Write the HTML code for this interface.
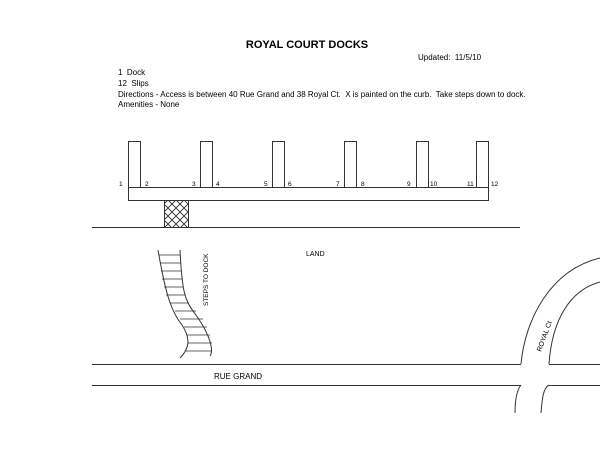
<!DOCTYPE html>
<html><head><style>body{margin:0;background:#fff}svg{display:block}text{white-space:pre}</style></head><body>
<svg width="600" height="464" viewBox="0 0 600 464" font-family="Liberation Sans, Arial, sans-serif" fill="none" stroke="#333" stroke-width="1">
<defs><pattern id="x" width="8" height="8" patternUnits="userSpaceOnUse"><path d="M0 0L8 8M8 0L0 8" stroke="#222" stroke-width="0.8"/></pattern></defs>
<text x="307" y="48" font-size="11" font-weight="bold" fill="#000" stroke="none" text-anchor="middle">ROYAL COURT DOCKS</text>
<g fill="#000" stroke="none" font-size="8">
<text x="418" y="60">Updated:  11/5/10</text>
<text x="118" y="75">1  Dock</text>
<text x="118" y="86">12  Slips</text>
<text x="118" y="97">Directions - Access is between 40 Rue Grand and 38 Royal Ct.  X is painted on the curb.  Take steps down to dock.</text>
<text x="118" y="107">Amenities - None</text>
<text x="306" y="256" font-size="7">LAND</text>
<text x="214" y="379">RUE GRAND</text>
<text transform="translate(208,306) rotate(-90)" font-size="6.5">STEPS TO DOCK</text>
<text transform="translate(541,352) rotate(-70)" font-size="7">ROYAL Ct</text>
<g font-size="6.5"><text x="119" y="186">1</text><text x="145" y="186">2</text><text x="192" y="186">3</text><text x="216" y="186">4</text><text x="264" y="186">5</text><text x="288" y="186">6</text><text x="336" y="186">7</text><text x="361" y="186">8</text><text x="407" y="186">9</text><text x="430" y="186">10</text><text x="467" y="186">11</text><text x="491" y="186">12</text></g>
</g>
<rect x="128.5" y="187.5" width="360" height="13"/>
<rect x="128.5" y="141.5" width="12" height="46"/>
<rect x="200.5" y="141.5" width="12" height="46"/>
<rect x="272.5" y="141.5" width="12" height="46"/>
<rect x="344.5" y="141.5" width="12" height="46"/>
<rect x="416.5" y="141.5" width="12" height="46"/>
<rect x="476.5" y="141.5" width="12" height="46"/>
<rect x="164.5" y="200.5" width="24" height="27" fill="url(#x)"/>
<path d="M92 227.5H520"/>
<path d="M158 250C165 290 170 310 182 325C192 340 188 350 180 358"/>
<path d="M180 250C182 290 184 300 196 315C210 335 214 350 210 356"/>
<g stroke-width="0.7">
<path d="M159 255H180M160 263H181M161 271H181M162 279H182M164 287H183M166 295H185M170 303H189M175 311H196M180 319H203M184 327H207M187 335H210M188 343H212M186 351H212"/>
</g>
<path d="M92 364.5H521M549 364.5H600M92 385.5H521M549 385.5H600"/>
<path d="M521 364C525 320 550 270 600 258"/>
<path d="M549 364C552 320 570 290 600 282"/>
<path d="M521 385C517 390 515 400 515 413"/>
<path d="M549 385C543 388 542 400 541 413"/>
</svg>
</body></html>
